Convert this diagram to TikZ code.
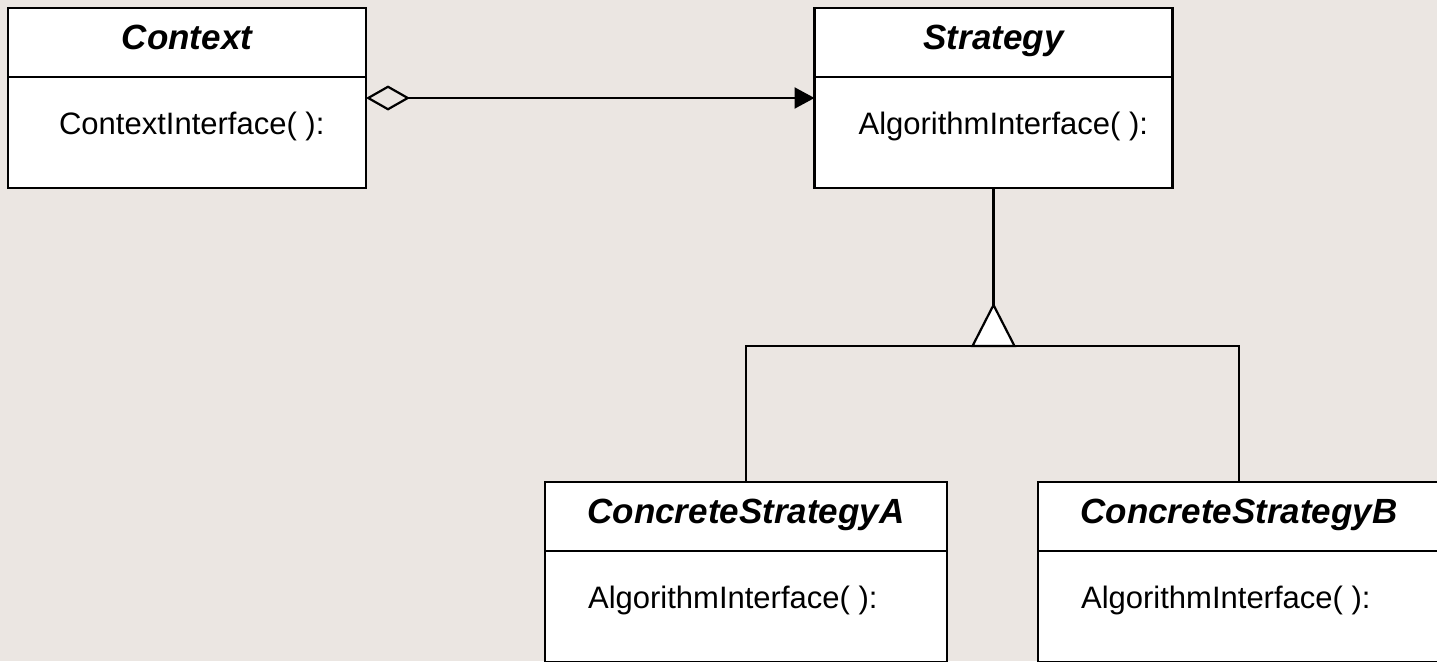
\documentclass[tikz,border=0pt]{standalone}
\usepackage{fontspec}
\setmainfont{Liberation Sans}
\usetikzlibrary{arrows.meta}
\definecolor{paper}{RGB}{235,230,226}

\begin{document}
\begin{tikzpicture}[x=1pt, y=-1pt, line width=2.2pt,
  classbox/.style={draw, fill=white, line width=2.6pt, minimum width=358pt, minimum height=180pt, inner sep=0pt, outer sep=0pt},
  wide/.style={minimum width=402pt},
  classname/.style={anchor=base, inner sep=0pt, font=\fontsize{35}{40}\selectfont\bfseries\itshape},
  method/.style={anchor=base west, inner sep=0pt, font=\fontsize{31}{36}\selectfont}]
\fill[paper] (0,0) rectangle (1437,661);
\useasboundingbox (0,0) rectangle (1437,661);
\clip (0,0) rectangle (1437,661);
% classes
\node[classbox] (ctx) at (187,98) {};
\node[classbox] (strat) at (993.5,98) {};
\node[classbox, wide] (csa) at (746,572) {};
\node[classbox, wide] (csb) at (1239,572) {};
\foreach \c in {ctx, strat, csa, csb} {
 \draw[line width=2.6pt] ([yshift=-69pt]\c.north west) -- ([yshift=-69pt]\c.north east);
}
\node[classname] (ctx-name) at ([yshift=-41.5pt]ctx.north) {Context};
\node[classname] (strat-name) at ([yshift=-41.5pt]strat.north) {Strategy};
\node[method] (ctx-op) at ([xshift=50pt, yshift=-126pt]ctx.north west) {ContextInterface( ):};
\node[method] (strat-op) at ([xshift=43pt, yshift=-126pt]strat.north west) {AlgorithmInterface( ):};
\foreach \c/\t in {csa/ConcreteStrategyA, csb/ConcreteStrategyB} {
 \node[classname] (\c-name) at ([yshift=-41.5pt]\c.north) {\t};
 \node[method] (\c-op) at ([xshift=42pt, yshift=-126pt]\c.north west) {AlgorithmInterface( ):};
}
% aggregation
\draw[{Diamond[open, length=44pt, width=25pt]}-{Triangle[length=20pt, width=21pt]}] (ctx.east) -- (strat.west);
% inheritance
\coordinate (fork) at (993.5,346);
\coordinate (tip) at (993.5,305);
\draw (strat.south) -- (tip);
\draw (csa.north) |- (fork) -| (csb.north);
\draw[fill=white, line join=miter] ([xshift=-21pt]fork) -- (tip) -- ([xshift=21pt]fork) -- cycle;
\end{tikzpicture}
\end{document}
